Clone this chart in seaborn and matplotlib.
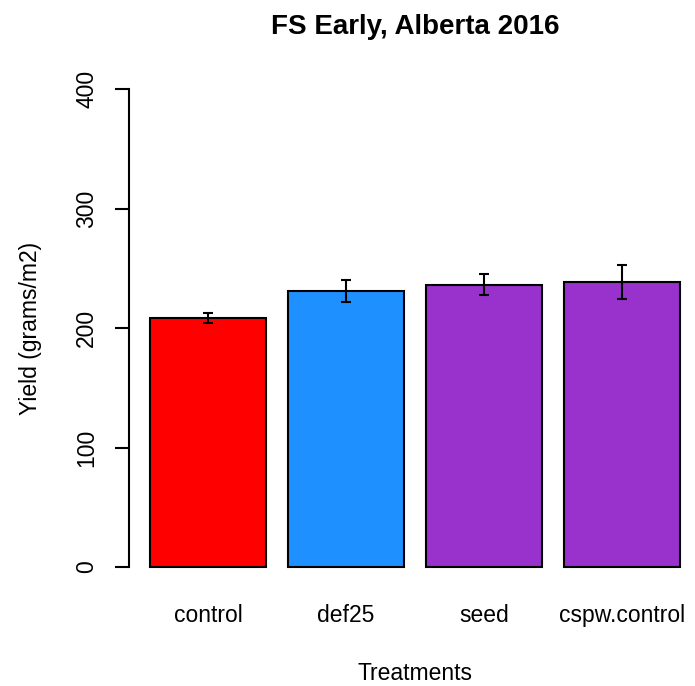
import pandas as pd
import numpy as np
import matplotlib
matplotlib.use("Agg")
import matplotlib.pyplot as plt
import seaborn as sns

# values
treatments = ["control", "def25", "seed", "cspw.control"]
yield_mean = [208.4, 231.2, 236.4, 238.4]
yield_se = [4.0, 9.1, 8.8, 14.2]
bar_colors = ["#FF0000", "#1E90FF", "#9932CC", "#9932CC"]

df = pd.DataFrame({"Treatment": treatments, "Yield": yield_mean, "SE": yield_se})

sns.set_style("white")
plt.rcParams["font.family"] = ["Liberation Sans", "DejaVu Sans"]
plt.rcParams["text.color"] = "black"
plt.rcParams["axes.labelcolor"] = "black"
plt.rcParams["xtick.color"] = "black"
plt.rcParams["ytick.color"] = "black"

fig = plt.figure(figsize=(6.95, 6.86), dpi=100)
# R style plot region (bars run off to the right edge)
ax = fig.add_axes([0.1853, 0.1456, 0.8233, 0.7525])

sns.barplot(data=df, x="Treatment", y="Yield", hue="Treatment",
            palette=bar_colors, saturation=1, legend=False, width=0.84,
            edgecolor="black", linewidth=1.5, errorbar=None, ax=ax)

# standard error bars
ax.errorbar(np.arange(len(treatments)), df["Yield"], yerr=df["SE"],
            fmt="none", ecolor="black", elinewidth=1.5, capsize=3.4, capthick=1.5)

ax.set_xlim(-0.574, 3.572)
ax.set_ylim(-16, 416)
ax.set_yticks([0, 100, 200, 300, 400])
ax.set_yticklabels(["0", "100", "200", "300", "400"], rotation=90, va="center")

for s in ["top", "right", "bottom"]:
    ax.spines[s].set_visible(False)
ax.spines["left"].set_bounds(0, 400)
ax.spines["left"].set_linewidth(1.5)
ax.spines["left"].set_color("black")

ax.tick_params(axis="y", left=True, length=10, width=1.5, color="black",
               pad=12, labelsize=16.5, labelcolor="black")
ax.tick_params(axis="x", bottom=False, length=0, pad=13, labelsize=16.5,
               labelcolor="black")

ax.set_xlabel("Treatments", fontsize=16.5, labelpad=25, color="black")
ax.set_ylabel("Yield (grams/m2)", fontsize=16.5, labelpad=24, color="black")
ax.set_title("FS Early, Alberta 2016", fontsize=20, fontweight="bold", pad=26,
             color="black")

plt.savefig("out.png", dpi=100)
